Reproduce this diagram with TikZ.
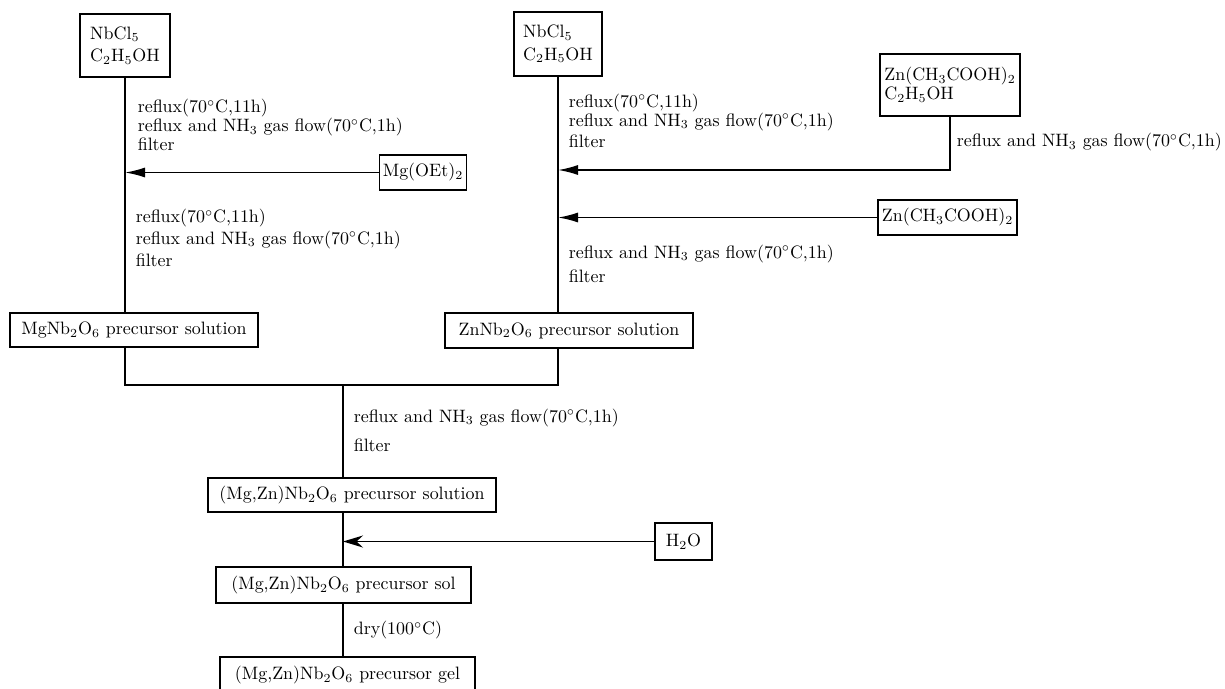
\documentclass[tikz,border=0pt]{standalone}
\usepackage{amsmath}
\usepackage{tikz}
\usetikzlibrary{arrows.meta,calc,positioning}
\newcommand{\degc}{$^{\circ}$C}
\newcommand{\nhflow}{reflux and NH$_3$ gas flow(70\degc,1h)}

\begin{document}
\begin{tikzpicture}[font=\fontsize{10.2}{10.8}\selectfont, line width=0.9pt,
    box/.style={draw, align=left, inner sep=2pt},
    note/.style={align=left, inner sep=0pt, anchor=north west},
    feed/.style={-{Latex[length=4mm,width=2mm]}},
    water/.style={-{Stealth[length=4mm,width=2.4mm]}}]
  \useasboundingbox (0,0) rectangle (24.5,-13.76);
  % starting solutions
  \node[box, minimum width=1.8cm, minimum height=1.26cm] (nb_1) at (2.5,-0.91) {NbCl$_5$\\[2pt]C$_2$H$_5$OH};
  \node[box, minimum width=1.76cm, minimum height=1.28cm] (nb_2) at (11.16,-0.88) {NbCl$_5$\\[2pt]C$_2$H$_5$OH};
  \node[box, minimum width=2.8cm, minimum height=1.24cm] (zn_1) at (19.0,-1.7) {Zn(CH$_3$COOH)$_2$\\C$_2$H$_5$OH};
  \node[box, minimum width=1.28cm, minimum height=0.7cm] (mg_oet) at (8.46,-3.45) {Mg(OEt)$_2$};
  \node[box, minimum width=2.78cm, minimum height=0.7cm] (zn_2) at (18.95,-4.35) {Zn(CH$_3$COOH)$_2$};
  % intermediate solutions
  \node[box, minimum width=4.96cm, minimum height=0.68cm] (mg_sol) at (2.68,-6.6) {MgNb$_2$O$_6$ precursor solution};
  \node[box, minimum width=4.96cm, minimum height=0.7cm] (zn_sol) at (11.38,-6.61) {ZnNb$_2$O$_6$ precursor solution};
  \node[box, minimum width=5.76cm, minimum height=0.68cm] (mix_sol) at (7.04,-9.9) {(Mg,Zn)Nb$_2$O$_6$ precursor solution};
  \node[box, minimum width=1.14cm, minimum height=0.74cm] (h2o) at (13.67,-10.83) {H$_2$O};
  \node[box, minimum width=5.1cm, minimum height=0.72cm] (sol) at (6.87,-11.7) {(Mg,Zn)Nb$_2$O$_6$ precursor sol};
  \node[box, minimum width=5.1cm, minimum height=0.72cm] (gel) at (6.95,-13.5) {(Mg,Zn)Nb$_2$O$_6$ precursor gel};

  \coordinate (merge) at (6.86,-7.7);
  \coordinate (zn_in) at (0,-3.4);

  % process lines
  \draw (nb_1.south) -- (nb_1.south |- mg_sol.north);
  \draw (nb_2.south) -- (nb_2.south |- zn_sol.north);
  \draw[feed] (mg_oet.west) -- (mg_oet.west -| nb_1.south);
  \draw[feed] (zn_1.south) |- (nb_2.south |- zn_in);
  \draw[feed] (zn_2.west) -- (zn_2.west -| nb_2.south);
  \draw (nb_1.south |- mg_sol.south) |- (merge) -| (nb_2.south |- zn_sol.south);
  \draw (merge) -- (merge |- mix_sol.north);
  \draw (merge |- mix_sol.south) -- (merge |- sol.north);
  \draw[water] (h2o.west) -- (h2o.west -| merge);
  \draw (merge |- sol.south) -- (merge |- gel.north);

  % conditions
  \node[note] (step_a) at (2.74,-1.97) {reflux(70\degc,11h)\\\nhflow\\filter};
  \node[note] (step_b) at (2.70,-4.17) {reflux(70\degc,11h)\\[1.5pt]\nhflow\\[2pt]filter};
  \node[note] (step_c) at (11.36,-1.86) {reflux(70\degc,11h)\\\nhflow\\[1.5pt]filter};
  \node[note, anchor=west] (step_d) at (19.12,-2.84) {\nhflow};
  \node[note] (step_e) at (11.36,-4.88) {\nhflow\\[3pt]filter};
  \node[note] (step_f) at (7.06,-8.16) {\nhflow\\[6pt]filter};
  \node[note, anchor=west] (step_g) at (7.06,-12.6) {dry(100\degc)};
\end{tikzpicture}
\end{document}
